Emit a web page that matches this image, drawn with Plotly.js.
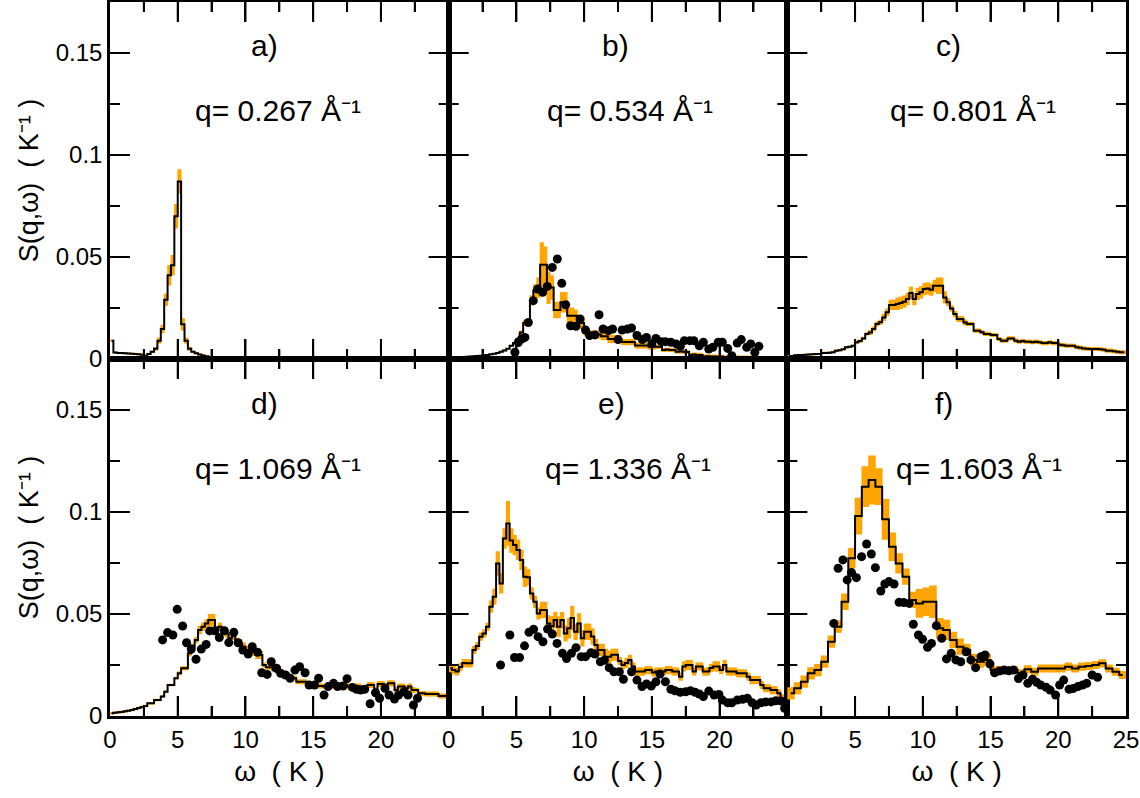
<!DOCTYPE html>
<html>
<head>
<meta charset="utf-8">
<script src="https://cdn.plot.ly/plotly-3.0.1.min.js"></script>
<style>html,body{margin:0;padding:0;background:#fff}#chart{width:1140px;height:798px}</style>
</head>
<body>
<div id="chart"></div>
<script>
// ---------------- data ----------------
const panelLabels = ['a)', 'b)', 'c)', 'd)', 'e)', 'f)'];
const qValues = ['0.267', '0.534', '0.801', '1.069', '1.336', '1.603'];
const binWidths = [0.25, 0.25, 0.25, 0.25, 0.25, 0.5];   // K, histogram bin width per panel
const xTickValsFull = [0, 5, 10, 15, 20, 25];
const xTickValsInner = [0, 5, 10, 15, 20];
const xMinorVals = [2.5, 7.5, 12.5, 17.5, 22.5];
const yTickVals = [0, 0.05, 0.1, 0.15];
const yMinorVals = [0.025, 0.075, 0.125, 0.175];

const lineA = [0.009,0.0032,0.003,0.0029,0.0028,0.0027,0.0026,0.0025,0.0023,0.0021,
  0.0016,0.0025,0.0035,0.005,0.009,0.0147,0.029,0.041,0.046,0.070,
  0.087,0.017,0.009,0.005,0.0035,0.0028,0.0022,0.0017,0.0013,0.001,
  0.0008,0.0005,0.0003,0.0002];
const errA = [0.0005,0.0005,0.0005,0.0005,0.0005,0.0005,0.0005,0.0005,0.0005,0.0005,
  0.0005,0.0005,0.0005,0.001,0.0015,0.002,0.003,0.005,0.005,0.006,
  0.006,0.003,0.0015,0.001,0.0005,0.0005,0.0005,0.0005,0.0005,0.0005,
  0.0005,0.0005,0.0005,0.0005];

const lineB = [0.0008,0.0008,0.0009,0.0009,0.001,0.0011,0.0012,0.0013,0.0015,0.0016,
  0.0018,0.002,0.0023,0.0026,0.003,0.0035,0.0042,0.005,0.0065,0.0078,
  0.0098,0.013,0.0177,0.0177,0.0287,0.0336,0.035,0.0462,0.0462,0.035,
  0.035,0.024,0.024,0.0278,0.0278,0.0212,0.0212,0.0212,0.0177,0.0177,
  0.0137,0.012,0.012,0.012,0.012,0.0112,0.0112,0.0098,0.0098,0.0098,
  0.0098,0.0083,0.0083,0.0083,0.0083,0.0066,0.0066,0.0066,0.0066,0.006,
  0.006,0.006,0.006,0.0044,0.0046,0.0044,0.0044,0.0036,0.0037,0.0036,
  0.0034,0.002,0.0022,0.002,0.002,0.0012,0.0013,0.0012,0.0012,0.0011,
  0.0012,0.0008,0.0008,0.0008,0.0007,0.0007,0.0007,0.0007,0.0006,0.0006,
  0.0006,0.0006,0.0005,0.0005,0.0005,0.0005,0.0005,0.0004,0.0004,0.0004];
const errB = [0.0004,0.0004,0.0004,0.0004,0.0004,0.0004,0.0004,0.0004,0.0004,0.0004,
  0.0004,0.0004,0.0004,0.0004,0.0004,0.0004,0.0004,0.0004,0.0004,0.0004,
  0.0008,0.001,0.0015,0.0015,0.0025,0.003,0.005,0.011,0.009,0.008,
  0.006,0.004,0.004,0.005,0.005,0.004,0.004,0.003,0.003,0.003,
  0.0025,0.002,0.002,0.002,0.002,0.002,0.002,0.002,0.002,0.002,
  0.002,0.0015,0.0015,0.0015,0.0015,0.0015,0.0015,0.0015,0.0015,0.0015,
  0.0015,0.001,0.001,0.001,0.001,0.001,0.001,0.001,0.001,0.001,
  0.001,0.001,0.001,0.001,0.001,0.001,0.001,0.001,0.001,0.001,
  0.001,0.001,0.001,0.001,0.001,0.001,0.001,0.001,0.001,0.001,
  0.001,0.001,0.001,0.001,0.001,0.001,0.001,0.001,0.001,0.001];
const dotsB_w = [4.89,5.14,5.38,5.63,5.88,6.25,6.57,6.94,7.28,7.65,8.02,8.35,8.64,9.0,9.4,9.7,10.1,10.4,10.8,11.1,
  11.4,11.8,12.1,12.5,12.8,13.2,13.5,13.9,14.3,14.6,15.0,15.3,15.7,16.0,16.4,16.8,17.1,17.4,17.8,18.1,
  18.5,18.8,19.2,19.5,19.9,20.2,20.6,20.9,21.3,21.6,22.0,22.3,22.6,22.9];
const dotsB_s = [0.0033,0.0081,0.0098,0.0106,0.0179,0.0286,0.0343,0.0327,0.0356,0.0449,0.049,0.0371,0.0266,0.0163,0.016,0.0196,0.0142,0.0115,0.0118,0.0217,
  0.0147,0.0139,0.0147,0.0095,0.0142,0.0147,0.0152,0.0115,0.0095,0.0106,0.0074,0.0101,0.0085,0.0085,0.0082,0.0074,0.0062,0.009,0.009,0.009,
  0.0065,0.0082,0.0049,0.0057,0.0082,0.0082,0.0052,0.0016,0.0078,0.0095,0.0057,0.0074,0.0033,0.0062];

const lineC = [0.0013,0.0015,0.0018,0.002,0.002,0.0021,0.0022,0.0023,0.0024,0.0025,
  0.003,0.003,0.0031,0.0033,0.0041,0.0043,0.0048,0.0057,0.006,0.0065,
  0.0082,0.0088,0.0101,0.0123,0.013,0.0147,0.0172,0.018,0.0204,0.0229,
  0.0265,0.0265,0.027,0.0275,0.0281,0.0294,0.0324,0.0294,0.0319,0.0327,
  0.0343,0.0346,0.034,0.0359,0.0359,0.0359,0.0302,0.0278,0.0248,0.022,
  0.0196,0.0196,0.0179,0.0172,0.0172,0.0139,0.0139,0.0131,0.0123,0.0123,
  0.0118,0.0118,0.0098,0.009,0.009,0.0101,0.0101,0.009,0.0085,0.0088,
  0.0085,0.0085,0.0082,0.0085,0.0082,0.0078,0.0078,0.0082,0.0078,0.0078,
  0.007,0.0068,0.0065,0.0065,0.0065,0.0058,0.0055,0.0052,0.005,0.0049,
  0.0049,0.0049,0.0048,0.0045,0.0041,0.0041,0.0038,0.0035,0.0033,0.0033];
const errC = [0.0005,0.0005,0.0005,0.0005,0.0005,0.0005,0.0005,0.0005,0.0005,0.0005,
  0.0005,0.0005,0.0005,0.0005,0.0005,0.0005,0.0005,0.0005,0.0005,0.0005,
  0.0008,0.0008,0.0008,0.0008,0.0012,0.0012,0.0012,0.0012,0.0018,0.0018,
  0.0025,0.0025,0.003,0.003,0.003,0.003,0.003,0.003,0.003,0.003,
  0.003,0.003,0.003,0.003,0.004,0.004,0.003,0.002,0.0015,0.0015,
  0.0015,0.0015,0.0015,0.001,0.001,0.001,0.001,0.001,0.001,0.001,
  0.001,0.001,0.001,0.001,0.001,0.001,0.001,0.001,0.001,0.001,
  0.001,0.001,0.001,0.001,0.001,0.001,0.001,0.001,0.001,0.001,
  0.001,0.001,0.001,0.001,0.001,0.001,0.001,0.001,0.001,0.001,
  0.001,0.001,0.001,0.001,0.001,0.001,0.001,0.001,0.001,0.001];

const lineD = [0.0013,0.0016,0.0018,0.002,0.0023,0.0026,0.003,0.0034,0.0039,0.0044,
  0.0049,0.0062,0.0062,0.0078,0.0078,0.0095,0.0119,0.0152,0.0152,0.0185,
  0.0209,0.0234,0.0234,0.0307,0.034,0.0373,0.0422,0.0438,0.0454,0.047,
  0.047,0.0422,0.0438,0.0413,0.0405,0.0381,0.0392,0.0364,0.0356,0.034,
  0.0324,0.0324,0.0315,0.0299,0.0299,0.025,0.0239,0.0239,0.0226,0.0218,
  0.0218,0.0201,0.0201,0.0185,0.0185,0.0168,0.0168,0.0168,0.0152,0.0152,
  0.0147,0.0147,0.0147,0.0144,0.0144,0.0144,0.0152,0.0152,0.0152,0.0152,
  0.0144,0.0144,0.0144,0.0144,0.0136,0.0136,0.0152,0.0152,0.0127,0.0157,
  0.0157,0.0144,0.016,0.016,0.0127,0.0144,0.0144,0.0136,0.0144,0.0127,
  0.0127,0.0111,0.0111,0.0108,0.0108,0.0108,0.0108,0.0098,0.0098,0.0098];
const errD = [0.0006,0.0006,0.0006,0.0006,0.0006,0.0006,0.0006,0.0006,0.0006,0.0006,
  0.0006,0.0006,0.0006,0.0006,0.0006,0.0006,0.0006,0.0006,0.0006,0.0006,
  0.001,0.001,0.001,0.0015,0.0015,0.0015,0.002,0.002,0.002,0.003,
  0.003,0.002,0.002,0.002,0.002,0.002,0.002,0.002,0.002,0.002,
  0.002,0.002,0.002,0.002,0.002,0.0012,0.0012,0.0012,0.0012,0.0012,
  0.0012,0.0012,0.0012,0.0012,0.0012,0.0012,0.0012,0.0012,0.0012,0.0012,
  0.0012,0.0012,0.0012,0.0012,0.0012,0.0012,0.0015,0.0015,0.0015,0.0015,
  0.0015,0.0015,0.0015,0.0015,0.0015,0.0015,0.0015,0.0015,0.0015,0.0015,
  0.0015,0.0015,0.0015,0.0015,0.0015,0.0015,0.0015,0.0015,0.0015,0.0015,
  0.0012,0.0012,0.0012,0.0012,0.0012,0.0012,0.0012,0.0012,0.0012,0.0012];
const dotsD_w = [3.88,4.25,4.64,4.96,5.36,5.65,6.0,6.35,6.74,7.1,7.36,7.73,8.07,8.44,8.77,9.14,9.46,9.8,10.2,10.5,
  10.9,11.2,11.6,11.9,12.3,12.6,12.96,13.3,13.65,14.0,14.4,14.7,15.1,15.4,15.8,16.1,16.5,16.8,17.2,17.5,
  17.9,18.2,18.5,18.8,19.2,19.6,19.9,20.3,20.6,21.0,21.3,21.7,22.0,22.4,22.7];
const dotsD_s = [0.0373,0.0409,0.0397,0.0523,0.0441,0.0359,0.0328,0.0278,0.0328,0.0351,0.0417,0.0418,0.0385,0.0418,0.036,0.041,0.0359,0.0323,0.0304,0.034,
  0.0312,0.0212,0.0204,0.0266,0.0234,0.0209,0.0201,0.0185,0.0225,0.0242,0.0212,0.0152,0.0152,0.0185,0.0103,0.0144,0.016,0.0144,0.0147,0.0183,
  0.014,0.0131,0.0127,0.0131,0.006,0.0114,0.0087,0.0136,0.0103,0.0083,0.0103,0.0119,0.0103,0.0054,0.0087];

const lineE = [0.0234,0.0225,0.0218,0.024,0.026,0.0258,0.0258,0.0324,0.0343,0.0389,
  0.0405,0.0438,0.0536,0.0585,0.0748,0.065,0.087,0.0944,0.086,0.0838,
  0.0814,0.0765,0.0683,0.068,0.0601,0.056,0.0503,0.052,0.052,0.0454,
  0.044,0.0471,0.0438,0.047,0.0405,0.043,0.048,0.0413,0.0454,0.0381,
  0.0413,0.0413,0.039,0.0348,0.0324,0.0324,0.029,0.029,0.030,0.030,
  0.027,0.025,0.026,0.0275,0.0243,0.0218,0.0218,0.0218,0.0225,0.0225,
  0.0213,0.0218,0.0218,0.0218,0.0225,0.0225,0.0218,0.0218,0.0193,0.0243,
  0.025,0.025,0.0218,0.0243,0.0243,0.0218,0.0218,0.0235,0.0243,0.0243,
  0.0225,0.025,0.0218,0.0218,0.0218,0.0209,0.0209,0.0209,0.0193,0.0176,
  0.0176,0.0176,0.0152,0.0136,0.0136,0.0127,0.0127,0.0111,0.0087,0.0087];
const errE = [0.002,0.002,0.002,0.002,0.002,0.002,0.002,0.002,0.002,0.002,
  0.002,0.002,0.003,0.004,0.006,0.005,0.005,0.011,0.006,0.005,
  0.005,0.005,0.005,0.004,0.003,0.003,0.003,0.004,0.004,0.004,
  0.005,0.004,0.005,0.004,0.004,0.005,0.006,0.004,0.005,0.004,
  0.004,0.004,0.004,0.003,0.003,0.003,0.004,0.003,0.003,0.003,
  0.002,0.002,0.0025,0.0025,0.002,0.002,0.002,0.002,0.002,0.002,
  0.002,0.002,0.002,0.002,0.002,0.002,0.002,0.002,0.002,0.0025,
  0.0025,0.0025,0.002,0.002,0.002,0.002,0.002,0.002,0.0025,0.0025,
  0.002,0.0025,0.002,0.002,0.002,0.002,0.002,0.002,0.002,0.002,
  0.002,0.002,0.002,0.002,0.002,0.002,0.002,0.002,0.002,0.002];
const dotsE_w = [3.83,4.52,4.86,5.23,5.6,5.93,6.27,6.6,6.96,7.3,7.65,8.0,8.4,8.7,9.06,9.4,9.78,10.1,10.5,10.8,
  11.2,11.5,11.85,12.2,12.6,12.9,13.5,13.9,14.27,14.6,14.96,15.3,15.6,16.0,16.4,16.7,17.1,17.5,17.85,18.2,
  18.5,18.8,19.2,19.6,19.95,20.2,20.6,20.9,21.3,21.7,22.05,22.4,22.7,23.06,23.4,23.8,24.15,24.5,24.8];
const dotsE_s = [0.025,0.0397,0.0287,0.0287,0.0344,0.041,0.0425,0.0389,0.0364,0.0426,0.0402,0.0356,0.0307,0.0282,0.0307,0.0335,0.0291,0.0291,0.031,0.0304,
  0.0266,0.0274,0.0237,0.0217,0.0217,0.018,0.0217,0.0176,0.0144,0.0157,0.0147,0.0168,0.0206,0.0168,0.0131,0.0124,0.0116,0.0119,0.0124,0.0116,
  0.0108,0.0095,0.0122,0.0103,0.0106,0.0078,0.0065,0.0065,0.0078,0.0082,0.0087,0.0065,0.0054,0.0065,0.0069,0.0069,0.0075,0.0074,0.0038];

const lineF = [0.0111,0.0136,0.0168,0.0209,0.0225,0.0266,0.0364,0.0438,0.056,0.0773,
  0.098,0.1124,0.1157,0.1124,0.0964,0.083,0.0748,0.0683,0.0569,0.0552,
  0.056,0.056,0.043,0.0422,0.0373,0.034,0.0324,0.0275,0.0266,0.0275,
  0.0225,0.0225,0.0225,0.0225,0.0209,0.0229,0.0217,0.0233,0.0233,0.0233,
  0.0233,0.0242,0.0233,0.0242,0.0245,0.025,0.0258,0.0233,0.0217,0.0201];
const errF = [0.003,0.003,0.003,0.003,0.003,0.003,0.003,0.003,0.004,0.005,
  0.009,0.01,0.012,0.009,0.01,0.007,0.005,0.004,0.004,0.007,
  0.007,0.008,0.005,0.005,0.004,0.004,0.003,0.003,0.003,0.003,
  0.002,0.002,0.002,0.002,0.002,0.002,0.002,0.002,0.002,0.002,
  0.002,0.002,0.002,0.002,0.002,0.002,0.002,0.002,0.002,0.002];
const dotsF_w = [3.43,3.75,4.1,4.42,4.74,5.1,5.48,5.85,6.2,6.5,6.9,7.2,7.5,7.88,8.25,8.6,9.0,9.3,9.68,9.98,
  10.35,10.64,11.0,11.4,11.75,12.1,12.44,12.8,13.2,13.55,13.9,14.3,14.6,14.96,15.3,15.65,16.0,16.35,16.7,17.06,
  17.4,17.75,18.1,18.4,18.7,19.1,19.4,19.8,20.1,20.4,20.8,21.1,21.45,21.8,22.1,22.5,22.9];
const dotsF_s = [0.0454,0.0724,0.0765,0.0667,0.0703,0.0678,0.0781,0.0843,0.0794,0.0727,0.0613,0.0647,0.0659,0.0647,0.0557,0.0556,0.0552,0.045,0.0397,0.0376,
  0.0337,0.0356,0.0443,0.0381,0.028,0.0307,0.0275,0.0266,0.0315,0.0275,0.0237,0.0291,0.0299,0.0255,0.0212,0.022,0.0225,0.0222,0.0225,0.0184,
  0.0201,0.016,0.018,0.0165,0.0152,0.0141,0.0127,0.0103,0.0152,0.0176,0.0131,0.0135,0.0144,0.0152,0.016,0.0201,0.019];

const yTitle = 'S(q,ω)  ( K⁻¹ )';
const xTitle = 'ω  ( K )';

// ---------------- build ----------------
const lines = [lineA, lineB, lineC, lineD, lineE, lineF];
const errs = [errA, errB, errC, errD, errE, errF];
const dots = [null, [dotsB_w, dotsB_s], null, [dotsD_w, dotsD_s], [dotsE_w, dotsE_s], [dotsF_w, dotsF_s]];

const FONT = '"Liberation Sans", Arial, Helvetica, sans-serif';
const ORANGE = '#FFA500';
const X_MAX = 25, Y_MAX = 0.175;
const MAJOR_LEN = 20, MINOR_LEN = 10;        // tick lengths, px
const plotW = 1016, plotH = 714;             // plotting region, px
const pxPerX = (plotW / 3) / X_MAX;          // px per K inside one panel
const pxPerY = (plotH / 2) / Y_MAX;          // px per unit of S inside one panel
const traces = [];
const tickTraces = [];
const layout = {
  width: 1140, height: 798,
  margin: {l: 110, r: 14, t: 2, b: 82},
  paper_bgcolor: '#fff', plot_bgcolor: 'rgba(0,0,0,0)',
  showlegend: false, font: {family: FONT, color: '#000'},
  annotations: []
};

// inward tick marks on the four sides of a panel, drawn as one line trace from the tick arrays
function tickTrace(s) {
  const xs = [], ys = [];
  const seg = (x0, y0, x1, y1) => { xs.push(x0, x1, null); ys.push(y0, y1, null); };
  const xTick = (v, len) => {
    const d = len / pxPerY;
    seg(v, 0, v, d);
    seg(v, Y_MAX, v, Y_MAX - d);
  };
  const yTick = (v, len) => {
    const d = len / pxPerX;
    seg(0, v, d, v);
    seg(X_MAX, v, X_MAX - d, v);
  };
  xTickValsFull.filter(v => v > 0 && v < X_MAX).forEach(v => xTick(v, MAJOR_LEN));
  xMinorVals.forEach(v => xTick(v, MINOR_LEN));
  yTickVals.filter(v => v > 0 && v < Y_MAX).forEach(v => yTick(v, MAJOR_LEN));
  yMinorVals.filter(v => v < Y_MAX).forEach(v => yTick(v, MINOR_LEN));
  return {x: xs, y: ys, xaxis: 'x' + s, yaxis: 'y' + s, type: 'scatter', mode: 'lines',
    connectgaps: false, hoverinfo: 'skip', line: {color: '#000', width: 2}};
}

for (let k = 0; k < 6; k++) {
  const s = k === 0 ? '' : String(k + 1);
  const col = k % 3, row = Math.floor(k / 3);
  const bw = binWidths[k];
  const centers = lines[k].map((_, i) => (i + 0.5) * bw);
  const pxPerBin = bw * pxPerX;
  traces.push({
    x: centers, y: lines[k], xaxis: 'x' + s, yaxis: 'y' + s,
    type: 'scatter', mode: 'markers',
    marker: {size: 1, color: 'rgba(0,0,0,0)'},
    error_y: {type: 'data', array: errs[k], visible: true, color: ORANGE, thickness: pxPerBin + 0.8, width: 0}
  });
  traces.push({
    x: centers, y: lines[k], xaxis: 'x' + s, yaxis: 'y' + s,
    type: 'scatter', mode: 'lines',
    line: {shape: 'hvh', color: '#000', width: 2}
  });
  if (dots[k]) {
    traces.push({
      x: dots[k][0], y: dots[k][1], xaxis: 'x' + s, yaxis: 'y' + s,
      type: 'scatter', mode: 'markers',
      marker: {size: 9, color: '#000'}
    });
  }
  tickTraces.push(tickTrace(s));
  const base = {
    showline: true, linecolor: '#000', linewidth: 2.5, mirror: 'ticks',
    ticks: 'inside', tickcolor: '#000', tickwidth: 2, ticklen: MAJOR_LEN,
    showgrid: false, zeroline: false,
    tickfont: {family: FONT, size: 24, color: '#000'}
  };
  layout['xaxis' + s] = Object.assign({}, base, {
    domain: [col / 3, (col + 1) / 3], anchor: 'y' + s, range: [0, X_MAX],
    tickmode: 'array', tickvals: (col < 2 ? xTickValsInner : xTickValsFull),
    showticklabels: row === 1,
    title: row === 1 ? {text: xTitle, standoff: 10, font: {family: FONT, size: 28, color: '#000'}} : {text: ''},
    minor: {tickmode: 'array', tickvals: xMinorVals, ticks: 'inside', ticklen: MINOR_LEN, tickwidth: 2, tickcolor: '#000'}
  });
  layout['yaxis' + s] = Object.assign({}, base, {
    domain: row === 0 ? [0.5, 1] : [0, 0.5], anchor: 'x' + s, range: [0, Y_MAX],
    tickmode: 'array', tickvals: yTickVals,
    showticklabels: col === 0,
    title: col === 0 ? {text: yTitle, standoff: 10, font: {family: FONT, size: 27, color: '#000'}} : {text: ''},
    minor: {tickmode: 'array', tickvals: yMinorVals, ticks: 'inside', ticklen: MINOR_LEN, tickwidth: 2, tickcolor: '#000'}
  });
  layout.annotations.push({
    xref: 'x' + s, yref: 'y' + s, x: (row === 0 ? [11.4, 12.3, 11.9] : [11.4, 12.0, 11.6])[col], y: row === 0 ? 0.1535 : 0.153,
    xanchor: 'center', yanchor: 'middle', showarrow: false,
    text: panelLabels[k], font: {family: FONT, size: 30, color: '#000'}
  });
  layout.annotations.push({
    xref: 'x' + s, yref: 'y' + s, x: [6.15, 7.1, 7.4][col] - (row === 1 && col === 1 ? 0.15 : 0) + (row === 1 && col === 2 ? 0.45 : 0),
    y: row === 0 ? 0.122 : 0.1215,
    xanchor: 'left', yanchor: 'middle', showarrow: false,
    text: 'q= ' + qValues[k] + ' Å⁻¹', font: {family: FONT, size: 30, color: '#000'}
  });
}

Plotly.newPlot('chart', traces.concat(tickTraces), layout, {displayModeBar: false});
</script>
</body>
</html>
